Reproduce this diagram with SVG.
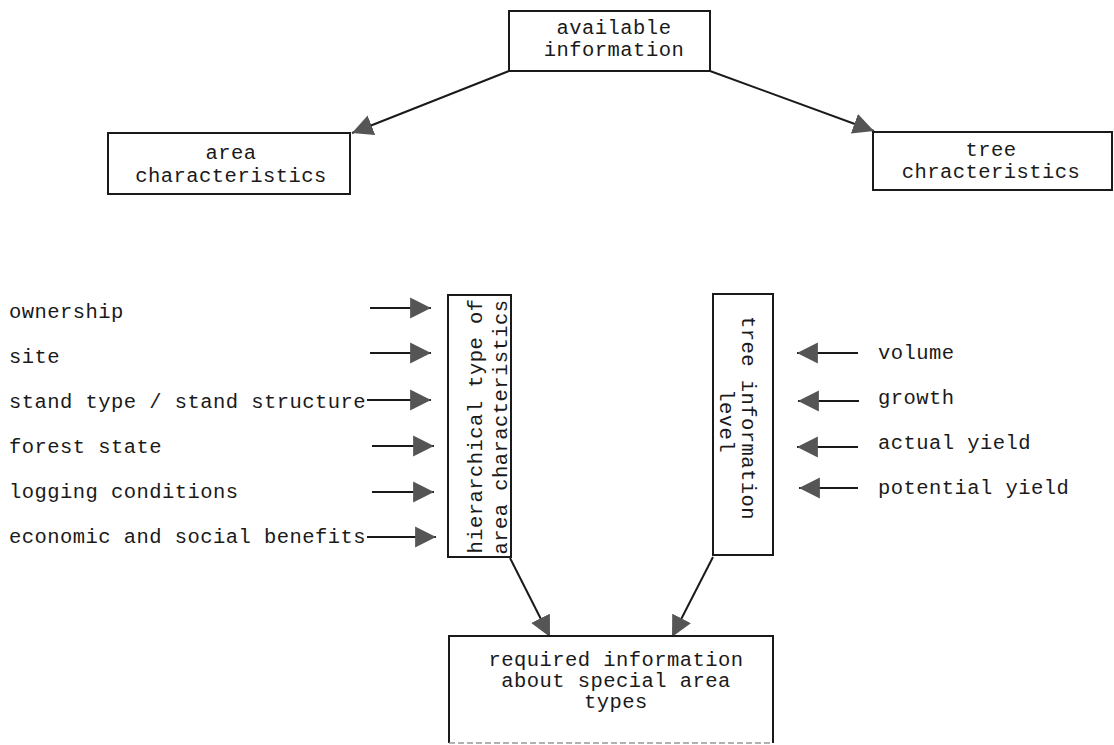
<svg xmlns="http://www.w3.org/2000/svg" width="1114" height="745" viewBox="0 0 1114 745">
<style>
.box{fill:#fff;stroke:#1a1a1a;stroke-width:2}
.t{font-family:"Liberation Mono","Courier New",monospace;font-size:20.5px;fill:#1a1a1a;letter-spacing:0.45px}
.c{text-anchor:middle}
.ln{stroke:#1a1a1a;stroke-width:2;fill:none}
</style>
<defs>
<marker id="ah" markerUnits="userSpaceOnUse" markerWidth="22" markerHeight="22" viewBox="0 0 20 20" refX="19" refY="10" orient="auto">
<path d="M0,0.5 L19,10 L0,19.5 Z" fill="#555"/>
</marker>
</defs>
<rect width="1114" height="745" fill="#fff"/>
<g id="connectors">
<line class="ln" x1="509" y1="71" x2="352" y2="133" marker-end="url(#ah)"/>
<line class="ln" x1="710" y1="71" x2="874" y2="131" marker-end="url(#ah)"/>
<line class="ln" x1="370" y1="308" x2="431" y2="308" marker-end="url(#ah)"/>
<line class="ln" x1="370" y1="353" x2="431" y2="353" marker-end="url(#ah)"/>
<line class="ln" x1="367" y1="400" x2="431" y2="400" marker-end="url(#ah)"/>
<line class="ln" x1="372" y1="446" x2="434" y2="446" marker-end="url(#ah)"/>
<line class="ln" x1="372" y1="492" x2="434" y2="492" marker-end="url(#ah)"/>
<line class="ln" x1="367" y1="537" x2="436" y2="537" marker-end="url(#ah)"/>
<line class="ln" x1="858" y1="353" x2="797" y2="353" marker-end="url(#ah)"/>
<line class="ln" x1="859" y1="401" x2="798" y2="401" marker-end="url(#ah)"/>
<line class="ln" x1="858" y1="447" x2="797" y2="447" marker-end="url(#ah)"/>
<line class="ln" x1="858" y1="488" x2="799" y2="488" marker-end="url(#ah)"/>
<line class="ln" x1="510" y1="558" x2="550" y2="637" marker-end="url(#ah)"/>
<line class="ln" x1="713" y1="557" x2="672" y2="637" marker-end="url(#ah)"/>
</g>
<g id="available">
<rect class="box" x="509" y="11" width="201" height="60"/>
<text class="t c" x="614" y="34">available</text>
<text class="t c" x="614" y="56">information</text>
</g>
<g id="area">
<rect class="box" x="108" y="133" width="242" height="61"/>
<text class="t c" x="231" y="159">area</text>
<text class="t c" x="231" y="182">characteristics</text>
</g>
<g id="tree">
<rect class="box" x="873" y="132" width="239" height="58"/>
<text class="t c" x="991" y="156">tree</text>
<text class="t c" x="991" y="178">chracteristics</text>
</g>
<g id="inputs-left">
<text class="t" x="9" y="318">ownership</text>
<text class="t" x="9" y="363">site</text>
<text class="t" x="9" y="408">stand type / stand structure</text>
<text class="t" x="9" y="453">forest state</text>
<text class="t" x="9" y="498">logging conditions</text>
<text class="t" x="9" y="543">economic and social benefits</text>
</g>
<g id="hierarchical">
<rect class="box" x="448" y="295" width="63" height="262"/>
<text class="t c" transform="translate(482,426) rotate(-90)">hierarchical type of</text>
<text class="t c" transform="translate(507,427) rotate(-90)">area characteristics</text>
</g>
<g id="tree-level">
<rect class="box" x="713" y="294" width="60" height="261"/>
<text class="t c" transform="translate(742,418) rotate(90)">tree information</text>
<text class="t c" transform="translate(720,421) rotate(90)">level</text>
</g>
<g id="inputs-right">
<text class="t" x="878" y="359">volume</text>
<text class="t" x="878" y="404">growth</text>
<text class="t" x="878" y="449">actual yield</text>
<text class="t" x="878" y="494">potential yield</text>
</g>
<g id="required">
<rect x="449" y="636" width="324" height="107" fill="#fff"/>
<path d="M449,743 V636 H773 V743" fill="none" stroke="#1a1a1a" stroke-width="2"/>
<line x1="449" y1="743" x2="773" y2="743" stroke="#999" stroke-width="1.5" stroke-dasharray="6 3"/>
<text class="t c" x="616" y="666">required information</text>
<text class="t c" x="616" y="687">about special area</text>
<text class="t c" x="616" y="708">types</text>
</g>
</svg>
